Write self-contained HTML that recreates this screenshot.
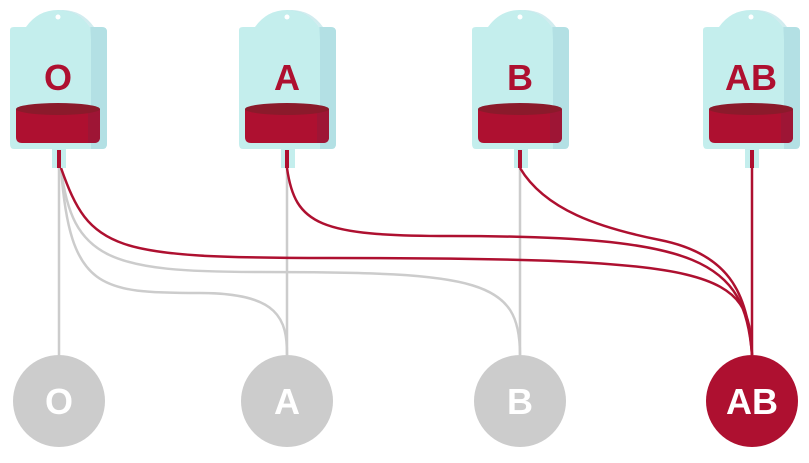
<!DOCTYPE html>
<html><head><style>
body{margin:0;background:#fff;width:809px;height:458px;overflow:hidden}
</style></head><body>
<svg width="809" height="458" viewBox="0 0 809 458" xmlns="http://www.w3.org/2000/svg">
<defs>
<g id="bag">
  <path d="M-48,30 Q-48,27 -44,27 L-32,27 Q-20,10 0,10 Q20,10 32,27 L44,27 Q49,27 49,32 L49,144 Q49,149 44,149 L-44,149 Q-48,149 -48,144 Z" fill="#c4eeed"/>
  <path d="M33,27 L44,27 Q49,27 49,32 L49,144 Q49,149 44,149 L33,149 Z" fill="#b3e0e4"/>
  <path d="M-2,10 Q20,10 32,27 L33,40 L33,149 L36,149 L36,27 Q24,10 4,10Z" fill="#b3e0e4" opacity="0.6"/>
  <circle cx="0" cy="17" r="2.5" fill="#fff"/>
  <rect x="-6" y="149" width="14" height="19" fill="#c4eeed"/>
  <path d="M-42,109 L42,109 L42,137 Q42,143 36,143 L-36,143 Q-42,143 -42,137 Z" fill="#ae1030"/>
  <path d="M30,109 L42,109 L42,137 Q42,143 36,143 L30,143 Z" fill="#9e1535"/>
  <ellipse cx="0" cy="109" rx="42" ry="6" fill="#8b1a2b"/>
</g>
</defs>
<g fill="none" stroke-width="2.5">
  <path d="M59,168 L59,360" stroke="#cccccc"/>
  <path d="M287,168 L287,355" stroke="#cccccc"/>
  <path d="M520,168 L520,355" stroke="#cccccc"/>
  <path d="M61,168 C70,290 100,293 200,293 C280,293 287,320 287,355" stroke="#cccccc"/>
  <path d="M61,168 C72,260 110,272 260,272 C480,272 520,280 520,355" stroke="#cccccc"/>
  <path d="M61,168 C90,250 110,258 330,258 C720,258 750,270 752,355" stroke="#ae1030"/>
  <path d="M287,168 C295,225 320,236 450,236 C700,236 745,260 752,355" stroke="#ae1030"/>
  <path d="M520,168 C545,210 600,228 660,240 C735,255 748,300 752,355" stroke="#ae1030"/>
  <path d="M752,168 L752,355" stroke="#ae1030"/>
  <path d="M59,150 L59,168 M287,150 L287,168 M520,150 L520,168 M752,150 L752,168" stroke="#ae1030" stroke-width="4"/>
</g>
<use href="#bag" x="58"/>
<use href="#bag" x="287"/>
<use href="#bag" x="520"/>
<use href="#bag" x="751"/>
<path d="M59,150 L59,168 M287,150 L287,168 M520,150 L520,168 M752,150 L752,168" stroke="#ae1030" stroke-width="4"/>
<g font-family="Liberation Sans, sans-serif" font-weight="bold" font-size="36" fill="#ae1030" text-anchor="middle">
  <text x="58" y="90">O</text><text x="287" y="90">A</text><text x="520" y="90">B</text><text x="751" y="90">AB</text>
</g>
<circle cx="59" cy="401" r="46" fill="#cccccc"/>
<circle cx="287" cy="401" r="46" fill="#cccccc"/>
<circle cx="520" cy="401" r="46" fill="#cccccc"/>
<circle cx="752" cy="401" r="46" fill="#ae1030"/>
<g font-family="Liberation Sans, sans-serif" font-weight="bold" font-size="36" fill="#fff" text-anchor="middle">
  <text x="59" y="414">O</text><text x="287" y="414">A</text><text x="520" y="414">B</text><text x="752" y="414">AB</text>
</g>
</svg>
</body></html>
